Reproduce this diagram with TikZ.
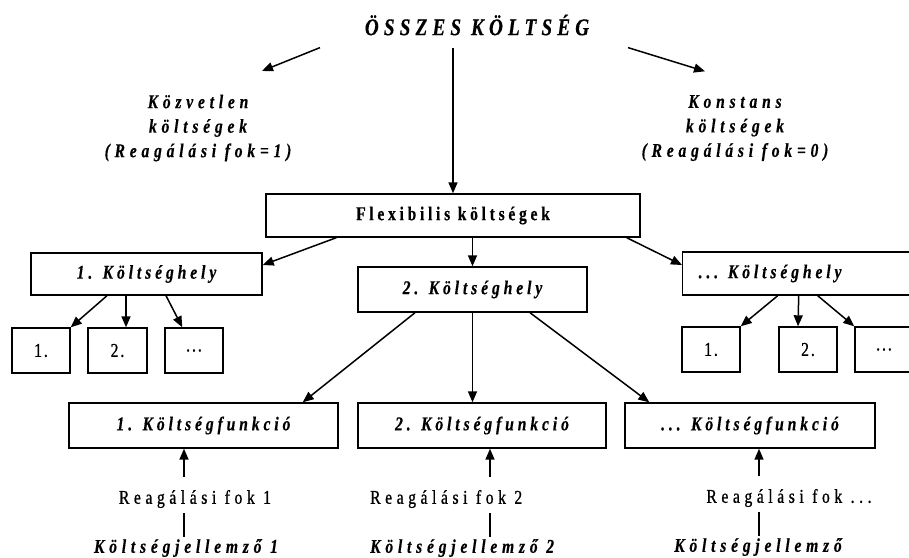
\documentclass[tikz,border=0pt]{standalone}
\usepackage{fontspec}
\setmainfont{Liberation Serif}
% condensed, letter-spaced variants of the text face
\newfontfamily\trackTitle[LetterSpace=21.5,FakeStretch=0.8,FakeBold=0.4]{Liberation Serif}
\newfontfamily\trackSide[LetterSpace=24.5,FakeStretch=0.8,FakeBold=0.4]{Liberation Serif}
\newfontfamily\trackBox[LetterSpace=20,FakeStretch=0.8,FakeBold=0.4]{Liberation Serif}
\newfontfamily\trackFlex[LetterSpace=19,FakeStretch=0.8,FakeBold=0.4]{Liberation Serif}
\newfontfamily\trackDeg[LetterSpace=23.5,FakeStretch=0.8,FakeBold=0.9]{Liberation Serif}
\newfontfamily\trackNum[LetterSpace=10,FakeStretch=0.8,FakeBold=0.9]{Liberation Serif}
\usetikzlibrary{arrows.meta}

\begin{document}
\begin{tikzpicture}[x=1pt,y=-1pt,
  arr/.style={-{Triangle[length=11pt,width=9pt]}, line width=1.5pt},
  plain/.style={line width=1.5pt},
  box/.style={draw, line width=1.4pt, inner sep=0pt},
  boxlabel/.style={font=\trackBox\fontsize{19.5}{22}\selectfont\bfseries\itshape},
  numbox/.style={box, minimum width=58pt, minimum height=45pt,
    font=\trackNum\fontsize{19.5}{22}\selectfont},
  sidetext/.style={inner sep=0pt, align=center,
    font=\trackSide\fontsize{19.5}{24.5}\selectfont\bfseries\itshape},
  degtext/.style={inner sep=0pt, font=\trackDeg\fontsize{19.5}{22}\selectfont},
  drvtext/.style={inner sep=0pt, font=\trackSide\fontsize{19.5}{22}\selectfont\bfseries\itshape}]
\clip (0,0) rectangle (909,557);
\fill[white] (0,0) rectangle (909,557);

% top level
\node[inner sep=0pt, font=\trackTitle\fontsize{24}{28}\selectfont\bfseries\itshape]
  (title) at (477,25) {ÖSSZES KÖLTSÉG};
\node[sidetext] (kozv) at (198,128) {Közvetlen\\költségek\\(Reagálási fok=1)};
\node[sidetext] (konst) at (735,128) {Konstans\\költségek\\(Reagálási fok=0)};

\node[box, font=\trackFlex\fontsize{19.5}{22}\selectfont\bfseries,
  minimum width=374pt, minimum height=43pt] (flex) at (453,215.5) {Flexibilis költségek};

% cost centres
\node[box, boxlabel, minimum width=231pt, minimum height=42pt] (kh1) at (146.5,274) {1. Költséghely};
\node[box, boxlabel, minimum width=229pt, minimum height=45pt] (kh2) at (472.5,289.5) {2. Költséghely};
\node[box, boxlabel, minimum height=43pt, text width=208pt, align=left,
  inner xsep=16pt, anchor=west] (kh3) at (682,273.5) {... Költséghely};

% sub-units
\node[numbox] (s1) at (41,350.5) {1.};
\node[numbox, minimum width=59pt] (s2) at (117.5,350.5) {2.};
\node[numbox] (s3) at (194,350.5) {...};
\node[numbox] (r1) at (711,349.5) {1.};
\node[numbox] (r2) at (808,349.5) {2.};
\node[numbox] (r3) at (884,349.5) {...};

% cost functions
\node[box, boxlabel, minimum width=269pt, minimum height=45pt] (f1) at (203.5,425.5) {1. Költségfunkció};
\node[box, boxlabel, minimum width=248pt, minimum height=45pt] (f2) at (482,425.5) {2. Költségfunkció};
\node[box, boxlabel, minimum width=250pt, minimum height=45pt] (f3) at (750,425.5) {... Költségfunkció};

% degrees of response and cost drivers
\node[degtext] (reag1) at (195,499) {Reagálási fok 1};
\node[degtext, anchor=west] (reag2) at (370,499) {Reagálási fok 2};
\node[degtext] (reag3) at (789,498) {Reagálási fok ...};
\node[drvtext] (jell1) at (186,548) {Költségjellemző 1};
\node[drvtext, anchor=west] (jell2) at (370,548) {Költségjellemző 2};
\node[drvtext] (jell3) at (758,547) {Költségjellemző};

% connectors from the total
\draw[arr] ([xshift=-157pt,yshift=-12pt]title.south) -- ([xshift=64pt,yshift=23.5pt]kozv.north);
\draw[arr] ([xshift=151pt,yshift=-12pt]title.south) -- ([xshift=-30pt,yshift=23.5pt]konst.north);
\draw[arr, shorten <=12pt] (title.south -| flex.north) -- (flex.north);

% flexible costs to cost centres
\draw[arr] ([xshift=71pt]flex.south west) -- ([yshift=9pt]kh1.east);
\draw[arr] (flex.south -| kh2.north) -- (kh2.north);
\draw[arr] ([xshift=-14pt]flex.south east) -- ([yshift=8.5pt]kh3.west);

% cost centres to sub-units
\draw[arr] ([xshift=-39.5pt]kh1.south) -- (s1.north east);
\draw[arr] ([xshift=-20.5pt]kh1.south) -- ([xshift=8.5pt]s2.north);
\draw[arr] ([xshift=19.5pt]kh1.south) -- ([xshift=18pt]s3.north west);
\draw[arr] ([xshift=-25pt]kh3.south) -- (r1.north east);
\draw[arr] ([xshift=-4pt]kh3.south) -- ([xshift=-10pt]r2.north);
\draw[arr] ([xshift=15pt]kh3.south) -- (r3.north west);

% second cost centre to cost functions
\draw[arr] ([xshift=-57.5pt]kh2.south) -- ([xshift=-36pt]f1.north east);
\draw[arr] (kh2.south) -- (kh2.south |- f2.north);
\draw[arr] ([xshift=57.5pt]kh2.south) -- ([xshift=25pt]f3.north west);

% degree of response feeding each cost function
\coordinate (a1) at ([xshift=-19.5pt]f1.south);
\coordinate (a2) at ([xshift=8pt]f2.south);
\coordinate (a3) at ([xshift=9pt]f3.south);
\foreach \i in {1,2,3}{
  \draw[arr, shorten <=13pt] (reag\i.north -| a\i) -- (a\i);
  \draw[plain, shorten <=5pt, shorten >=2pt] (reag\i.south -| a\i) -- (jell\i.north -| a\i);
}
\end{tikzpicture}
\end{document}
